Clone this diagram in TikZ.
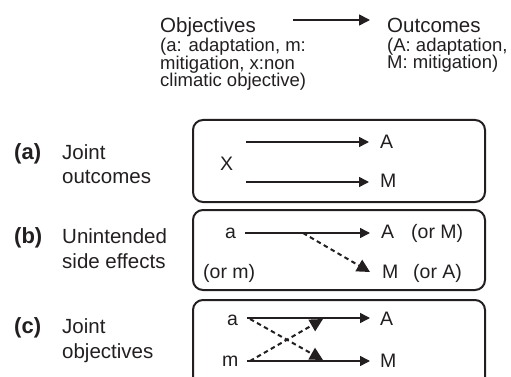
\documentclass[tikz,border=0pt]{standalone}
\usepackage{fontspec}
\setmainfont{Liberation Sans}
\usetikzlibrary{arrows.meta}
\definecolor{ink}{HTML}{231F20}
\begin{document}
\begin{tikzpicture}[x=1pt,y=-1pt,
  txt/.style={inner sep=0pt, anchor=base west, text=ink},
  hdr/.style={txt, font=\fontsize{20.5}{24}\selectfont},
  sub/.style={txt, font=\fontsize{18.5}{21}\selectfont},
  lbl/.style={txt, font=\fontsize{20.5}{24}\selectfont},
  tag/.style={txt, font=\fontsize{22}{24}\selectfont\bfseries},
  var/.style={txt, font=\fontsize{19.5}{23}\selectfont},
  panel/.style={draw=ink, line width=2pt, rounded corners=10pt},
  arr/.style={draw=ink, line width=1.5pt, -{Triangle[length=10pt,width=10pt]}},
  harr/.style={draw=ink, line width=1.6pt, -{Triangle[length=11pt,width=11pt]}},
  darr/.style={draw=ink, line width=2pt, dash pattern=on 4.5pt off 3.5pt, -{Triangle[length=13pt,width=13pt]}}
]
\useasboundingbox (0,0) rectangle (511,377);
% header
\node[hdr] (obj) at (160,33) {Objectives};
\node[sub] (obj1) at (160,52) {(a: adaptation, m:};
\node[sub] (obj2) at (160,69.5) {mitigation, x:non};
\node[sub] (obj3) at (160,87) {climatic objective)};
\node[hdr] (out) at (387,33) {Outcomes};
\node[sub] (out1) at (387,51.5) {(A: adaptation,};
\node[sub] (out2) at (387,69) {M: mitigation)};
\coordinate (hs) at (293,20);
\coordinate (he) at (370,20);
\draw[harr] (hs) -- (he);

% left labels
\node[tag] (ta) at (14,159) {(a)};
\node[lbl] (la1) at (62,159) {Joint};
\node[lbl] (la2) at (62,183) {outcomes};
\node[tag] (tb) at (14,243) {(b)};
\node[lbl] (lb1) at (62,243) {Unintended};
\node[lbl] (lb2) at (62,268) {side effects};
\node[tag] (tc) at (14,333) {(c)};
\node[lbl] (lc1) at (62,333) {Joint};
\node[lbl] (lc2) at (62,358) {objectives};

% panel (a)
\draw[panel] (193,120) rectangle (485,202);
\node[var] (xa) at (220,170) {X};
\node[var] (Aa) at (380,148) {A};
\node[var] (Ma) at (380,187.5) {M};
\coordinate (a1s) at (246,142);
\coordinate (a1e) at (369,142);
\coordinate (a2s) at (246,182);
\coordinate (a2e) at (369,182);
\draw[arr] (a1s) -- (a1e);
\draw[arr] (a2s) -- (a2e);

% panel (b)
\draw[panel] (193,210) rectangle (485,290);
\node[var] (ab) at (225,238) {a};
\node[var] (Ab) at (381,238) {A};
\node[var] (oMb) at (411,238) {(or M)};
\node[var] (omb) at (203,278) {(or m)};
\node[var] (Mb) at (382,278) {M};
\node[var] (oAb) at (413,278) {(or A)};
\coordinate (b1s) at (245,233);
\coordinate (b1e) at (370,233);
\coordinate (b2s) at (303,233);
\coordinate (b2e) at (370,272);
\draw[arr] (b1s) -- (b1e);
\draw[darr] (b2s) -- (b2e);

% panel (c)
\begin{scope}
\clip (0,0) rectangle (511,377);
\draw[panel] (193,300) rectangle (485,400);
\end{scope}
\node[var] (ac) at (227,325) {a};
\node[var] (mc) at (222,366) {m};
\node[var] (Ac) at (380,325) {A};
\node[var] (Mc) at (380,367) {M};
\coordinate (c1s) at (247,318);
\coordinate (c1e) at (370,318);
\coordinate (c2s) at (247,361);
\coordinate (c2e) at (370,361);
\coordinate (c3s) at (250,319);
\coordinate (c3e) at (323,360);
\coordinate (c4s) at (250,361);
\coordinate (c4e) at (323,319);
\draw[arr] (c1s) -- (c1e);
\draw[arr] (c2s) -- (c2e);
\draw[darr] (c3s) -- (c3e);
\draw[darr] (c4s) -- (c4e);
\end{tikzpicture}
\end{document}
